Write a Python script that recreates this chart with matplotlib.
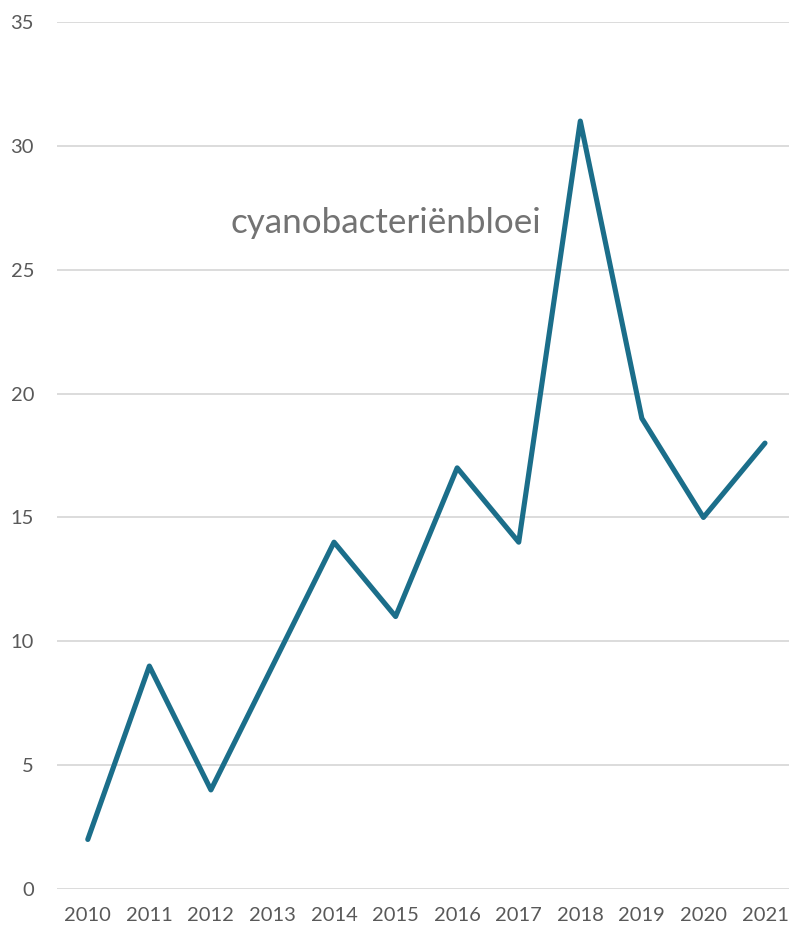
import matplotlib
matplotlib.use("Agg")
import matplotlib.pyplot as plt

years = ["2010", "2011", "2012", "2013", "2014", "2015", "2016", "2017", "2018", "2019", "2020", "2021"]
values = [2, 9, 4, 9, 14, 11, 17, 14, 31, 19, 15, 18]
yticks = [0, 5, 10, 15, 20, 25, 30, 35]
label = "cyanobacteriënbloei"

plt.rcParams['font.family'] = ['Lato', 'DejaVu Sans']
fig = plt.figure(figsize=(7.89, 9.31), dpi=100)
W, H = 789, 931
left, right, top, bottom = 57, 789, 22, 889
ax = fig.add_axes([left / W, 1 - bottom / H, (right - left) / W, (bottom - top) / H])

x = list(range(len(years)))
ax.plot(x, values, color="#1b6e8a", linewidth=3.7, solid_joinstyle="round", solid_capstyle="round", zorder=3)
ax.set_xlim(-0.5, 11.39)
ax.set_ylim(0, 35)
ax.set_yticks(yticks)
ax.set_xticks(x)
ax.set_xticklabels(years)
ax.grid(axis="y", color="#d9d9d9", linewidth=1.3)
ax.set_axisbelow(True)
for s in ax.spines.values():
    s.set_visible(False)
ax.tick_params(length=0, labelsize=14.5, colors="#595959", pad=13)
ax.tick_params(axis="y", pad=16.5)
ax.text(4.85, 26.9, label, fontsize=25.2, color="#737373", ha="center", va="center")

fig.savefig("out.png", dpi=100)
